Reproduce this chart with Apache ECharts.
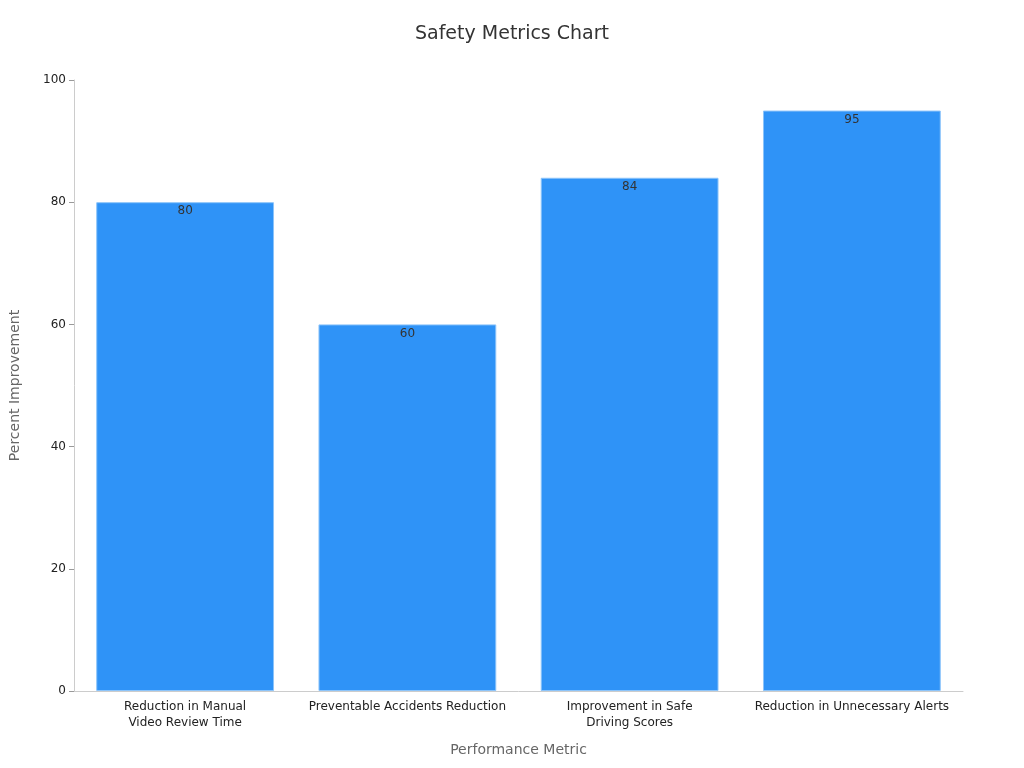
<!DOCTYPE html>
<html><head><meta charset="utf-8">
<script src="https://cdn.jsdelivr.net/npm/echarts@6/dist/echarts.min.js"></script>
<style>html,body{margin:0;padding:0;background:#fff}#c{width:1024px;height:768px}</style>
</head><body><div id="c"></div>
<script>
const categories = ["Reduction in Manual\nVideo Review Time","Preventable Accidents Reduction","Improvement in Safe\nDriving Scores","Reduction in Unnecessary Alerts"];
const values = [80, 60, 84, 95];
const chart = echarts.init(document.getElementById('c'));
chart.setOption({
  animation:false,
  textStyle:{fontFamily:'DejaVu Sans'},
  title:{text:'Safety Metrics Chart',left:'center',top:20,textStyle:{fontSize:19,fontWeight:'normal',color:'#333',fontFamily:'DejaVu Sans'}},
  grid:{left:68,right:61,top:80,bottom:77},
  xAxis:{type:'category',data:categories,name:'Performance Metric',nameLocation:'middle',nameGap:52,
    nameTextStyle:{fontSize:14,color:'#666'},
    axisLine:{lineStyle:{color:'#ccc'}},axisTick:{alignWithLabel:true,lineStyle:{color:'#999'}},
    axisLabel:{color:'#222',fontSize:12,interval:0,lineHeight:16}},
  yAxis:{type:'value',min:0,max:100,interval:20,name:'Percent Improvement',nameLocation:'middle',nameGap:52,
    nameTextStyle:{fontSize:14,color:'#666'},
    axisLine:{show:true,lineStyle:{color:'#ccc'}},axisTick:{show:true,lineStyle:{color:'#999'}},
    axisLabel:{color:'#222',fontSize:12},splitLine:{show:false}},
  series:[{type:'bar',data:values,barCategoryGap:'20%',
    itemStyle:{color:'#2f93f7',borderColor:'#8cc4fa',borderWidth:1},
    label:{show:true,position:'insideTop',color:'#333',fontSize:12,distance:3}}]
});
</script></body></html>
